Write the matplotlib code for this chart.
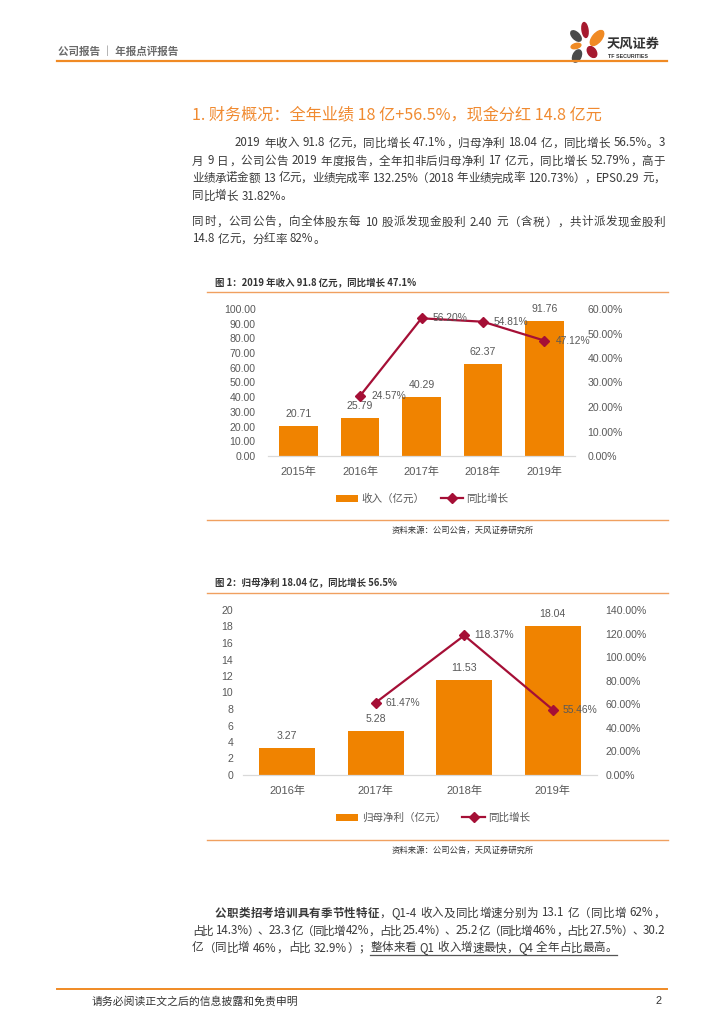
import re
import matplotlib
matplotlib.use("Agg")
import matplotlib.pyplot as plt
from matplotlib.patches import Ellipse
from matplotlib.ticker import FuncFormatter

# chart fonts: Arial-like latin, CJK fallback
plt.rcParams['font.family'] = ['Liberation Sans', 'Noto Sans CJK SC', 'DejaVu Sans']
BODY = ['Noto Sans CJK SC', 'DejaVu Sans']

# Chart 1 data: revenue (100m yuan) and yoy growth
years1 = ['2015年', '2016年', '2017年', '2018年', '2019年']
revenue = [20.71, 25.79, 40.29, 62.37, 91.76]
rev_growth = [24.57, 56.20, 54.81, 47.12]   # 2016-2019

# Chart 2 data: net profit attributable to parent and yoy growth
years2 = ['2016年', '2017年', '2018年', '2019年']
profit = [3.27, 5.28, 11.53, 18.04]
profit_growth = [61.47, 118.37, 55.46]       # 2017-2019

ORANGE = '#F08300'
RED = '#A50F36'
LINE_OR = '#F0A060'
GRAY = '#595959'
TXT = '#3a3a3a'

W, H = 724, 1024
fig = plt.figure(figsize=(W / 100, H / 100), dpi=100)

# page layer in pixel coordinates (y down)
page = fig.add_axes([0, 0, 1, 1])
page.set_xlim(0, W)
page.set_ylim(H, 0)
page.axis('off')
renderer = fig.canvas.get_renderer()

tok_re = re.compile(r'[A-Za-z0-9.%+\-]+| |.')


def draw_line(segs, x0, y, x1=None, size=8.3, color=TXT):
    """segs is a list of (text, bold, underline); x1 given -> justify"""
    items = []
    sp = 0.28 * size * 100 / 72
    for text, bold, ul in segs:
        for tok in tok_re.findall(text):
            if tok == ' ':
                items.append([None, sp, ul])
                continue
            t = page.text(0, y, tok, fontsize=size, family=BODY, color=color,
                          fontweight='bold' if bold else 'normal',
                          va='center', ha='left')
            w = t.get_window_extent(renderer=renderer).width
            items.append([t, w, ul])
    total = sum(it[1] for it in items)
    gap = 0
    if x1 is not None and len(items) > 1:
        gap = (x1 - x0 - total) / (len(items) - 1)
    x = x0
    ul_start, ul_end = None, None
    for t, w, ul in items:
        if t is not None:
            t.set_x(x)
        if ul:
            if ul_start is None:
                ul_start = x
            ul_end = x + w
        x += w + gap
    if ul_start is not None:
        page.plot([ul_start, ul_end], [y + 7, y + 7], color='#555555', lw=0.9)


# header
page.text(58, 52, '公司报告 ｜ 年报点评报告', fontsize=7.6, family=BODY,
          color='#6a6a6a', fontweight='bold', va='center')
page.plot([57, 667], [61, 61], color='#F08A24', lw=1.6)

# logo petals: cx, cy, length, thickness, angle, colour
petals = [
    (585, 30, 15, 6, 82, '#A6192E'),
    (576, 36, 13, 7, 45, '#4a4a4a'),
    (597, 38, 18, 9, -50, '#F08A24'),
    (576, 46, 10, 5, -15, '#F08A24'),
    (592, 52, 12, 8, 55, '#A6192E'),
    (577, 56, 13, 8, -65, '#4a4a4a'),
]
for cx, cy, ln, th, ang, c in petals:
    page.add_patch(Ellipse((cx, cy), ln, th, angle=ang, color=c))
page.text(607, 44, '天风证券', fontsize=9.5, family=BODY, color='#333333',
          fontweight='bold', va='center')
page.text(608, 56.5, 'TF SECURITIES', fontsize=3.8, color='#333333',
          fontweight='bold', va='center')

# section title
page.text(192, 115, '1. 财务概况：全年业绩 18 亿+56.5%，现金分红 14.8 亿元',
          fontsize=11.6, family=BODY, color='#F08A30', va='center')

# paragraph 1
L, R = 192, 665
draw_line([('2019 年收入 91.8 亿元，同比增长 47.1%，归母净利 18.04 亿，同比增长 56.5%。3', 0, 0)], 235, 143, R)
draw_line([('月 9 日，公司公告 2019 年度报告，全年扣非后归母净利 17 亿元，同比增长 52.79%，高于', 0, 0)], L, 161, R)
draw_line([('业绩承诺金额 13 亿元，业绩完成率 132.25%（2018 年业绩完成率 120.73%），EPS0.29 元，', 0, 0)], L, 178, R)
draw_line([('同比增长 31.82%。', 0, 0)], L, 196)
draw_line([('同时，公司公告，向全体股东每 10 股派发现金股利 2.40 元（含税），共计派发现金股利', 0, 0)], L, 222, R)
draw_line([('14.8 亿元，分红率 82%。', 0, 0)], L, 239)

pct = FuncFormatter(lambda v, p: '{:.2f}%'.format(v))


def style_axes(ax, axr, lpad, rpad):
    for s in ['top', 'left', 'right']:
        ax.spines[s].set_visible(False)
    ax.spines['bottom'].set_color('#d9d9d9')
    ax.spines['bottom'].set_linewidth(0.9)
    for s in axr.spines.values():
        s.set_visible(False)
    ax.tick_params(axis='y', length=0, labelsize=7.6, labelcolor=GRAY, pad=lpad)
    ax.tick_params(axis='x', length=0, labelsize=8, labelcolor=GRAY, pad=8)
    axr.tick_params(axis='y', length=0, labelsize=7.6, labelcolor=GRAY, pad=rpad)
    ax.patch.set_alpha(0)


def fig_box(x0, y0, x1, y1):
    return [x0 / W, 1 - y1 / H, (x1 - x0) / W, (y1 - y0) / H]


# ---- figure 1 ----
page.text(215, 283, '图 1：2019 年收入 91.8 亿元，同比增长 47.1%', fontsize=6.8,
          family=BODY, color='#333333', fontweight='bold', va='center')
page.plot([207, 668], [292, 292], color=LINE_OR, lw=1)
page.plot([207, 668], [520, 520], color=LINE_OR, lw=1)
page.text(463, 530, '资料来源：公司公告，天风证券研究所', fontsize=6, family=BODY,
          color='#333333', va='center', ha='center')

ax1 = fig.add_axes(fig_box(268, 309, 575, 456))
x1 = list(range(len(years1)))
bars1 = ax1.bar(x1, revenue, width=0.63, color=ORANGE, label='收入（亿元）')
ax1.bar_label(bars1, labels=['{:.2f}'.format(v) for v in revenue], padding=5,
              fontsize=7.6, color=GRAY)
ax1.set_xlim(-0.5, len(years1) - 0.5)
ax1.set_ylim(0, 100)
ax1.set_yticks(range(0, 101, 10))
ax1.yaxis.set_major_formatter(FuncFormatter(lambda v, p: '{:.2f}'.format(v)))
ax1.set_xticks(x1)
ax1.set_xticklabels(years1)
ax1r = ax1.twinx()
ln1, = ax1r.plot(x1[1:], rev_growth, color=RED, lw=1.6, marker='D', ms=5,
                 label='同比增长')
for xi, v in zip(x1[1:], rev_growth):
    ax1r.annotate('{:.2f}%'.format(v), (xi, v), xytext=(8, 0),
                  textcoords='offset points', va='center', ha='left',
                  fontsize=7.4, color=GRAY)
ax1r.set_ylim(0, 60)
ax1r.set_yticks(range(0, 61, 10))
ax1r.yaxis.set_major_formatter(pct)
style_axes(ax1, ax1r, 9, 9)
fig.legend([bars1, ln1], ['收入（亿元）', '同比增长'], loc='center',
           bbox_to_anchor=(422 / W, 1 - 499 / H), ncol=2, frameon=False,
           fontsize=7.6, labelcolor=GRAY, handlelength=2.1, handletextpad=0.3,
           columnspacing=1.6)

# ---- figure 2 ----
page.text(215, 583, '图 2：归母净利 18.04 亿，同比增长 56.5%', fontsize=6.8,
          family=BODY, color='#333333', fontweight='bold', va='center')
page.plot([207, 668], [593, 593], color=LINE_OR, lw=1)
page.plot([207, 668], [840, 840], color=LINE_OR, lw=1)
page.text(463, 850, '资料来源：公司公告，天风证券研究所', fontsize=6, family=BODY,
          color='#333333', va='center', ha='center')

ax2 = fig.add_axes(fig_box(243, 610, 597, 775))
x2 = list(range(len(years2)))
bars2 = ax2.bar(x2, profit, width=0.63, color=ORANGE)
ax2.bar_label(bars2, labels=['{:.2f}'.format(v) for v in profit], padding=5,
              fontsize=7.6, color=GRAY)
ax2.set_xlim(-0.5, len(years2) - 0.5)
ax2.set_ylim(0, 20)
ax2.set_yticks(range(0, 21, 2))
ax2.set_xticks(x2)
ax2.set_xticklabels(years2)
ax2r = ax2.twinx()
ln2, = ax2r.plot(x2[1:], profit_growth, color=RED, lw=1.6, marker='D', ms=5)
for xi, v in zip(x2[1:], profit_growth):
    ax2r.annotate('{:.2f}%'.format(v), (xi, v), xytext=(7, 0),
                  textcoords='offset points', va='center', ha='left',
                  fontsize=7.4, color=GRAY)
ax2r.set_ylim(0, 140)
ax2r.set_yticks(range(0, 141, 20))
ax2r.yaxis.set_major_formatter(pct)
style_axes(ax2, ax2r, 7, 6)
fig.legend([bars2, ln2], ['归母净利（亿元）', '同比增长'], loc='center',
           bbox_to_anchor=(433 / W, 1 - 818 / H), ncol=2, frameon=False,
           fontsize=7.6, labelcolor=GRAY, handlelength=2.1, handletextpad=0.3,
           columnspacing=1.6)

# bottom paragraph
draw_line([('公职类招考培训具有季节性特征', 1, 0),
           ('，Q1-4 收入及同比增速分别为 13.1 亿（同比增 62%，', 0, 0)], 215, 913, R)
draw_line([('占比 14.3%）、23.3 亿（同比增 42%，占比 25.4%）、25.2 亿（同比增 46%，占比 27.5%）、30.2', 0, 0)], L, 931, R)
draw_line([('亿（同比增 46%，占比 32.9%）；', 0, 0),
           ('整体来看 Q1 收入增速最快，Q4 全年占比最高。', 0, 1)], L, 948)

# footer
page.plot([57, 667], [989, 989], color='#F08A24', lw=1.4)
page.text(92, 1001, '请务必阅读正文之后的信息披露和免责申明', fontsize=7.8,
          family=BODY, color='#333333', va='center')
page.text(662, 1001, '2', fontsize=7.8, color='#333333', va='center', ha='right')

fig.savefig('out.png', dpi=100)
